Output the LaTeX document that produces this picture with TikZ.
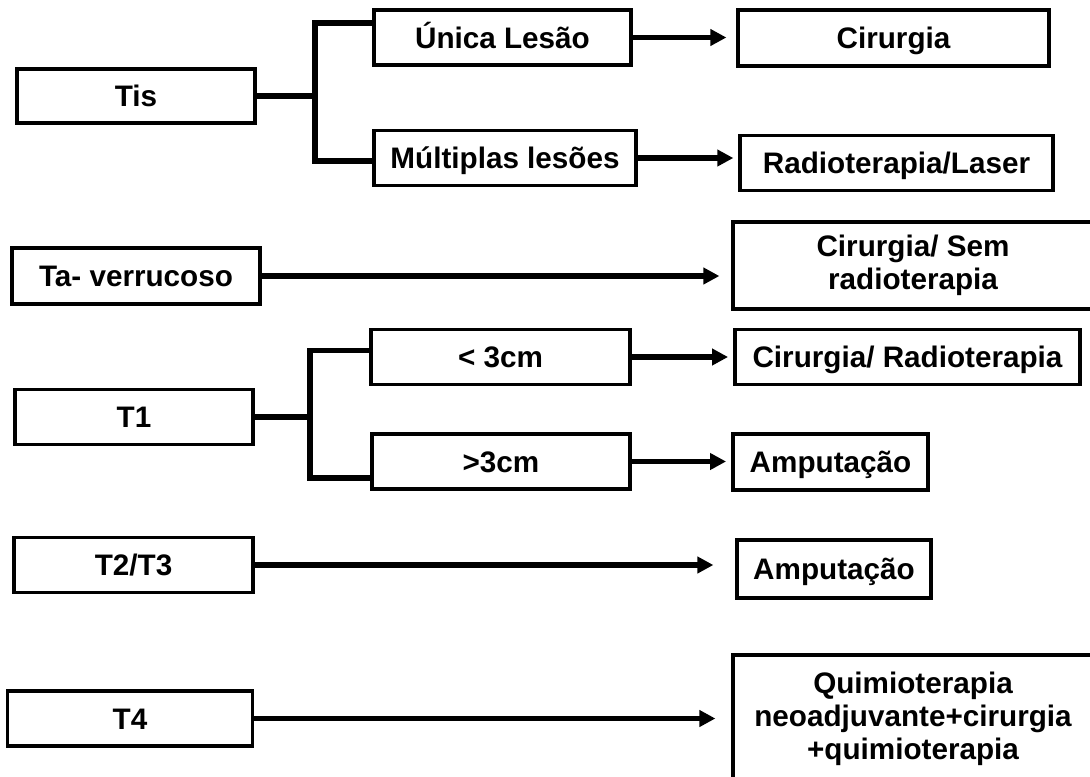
\documentclass[tikz,border=0pt]{standalone}
\usepackage{fontspec}
\setmainfont{Liberation Sans}
\usepackage{tikz}
\usetikzlibrary{arrows.meta,positioning}

\tikzset{
  box/.style={draw, line width=2.4pt, inner sep=0pt, minimum height=41.25pt,
    font=\fontsize{22.25}{24.75}\selectfont\bfseries},
  one/.style={box, text height=16pt, text depth=0pt},
  many/.style={box, align=center},
  branch/.style={line width=4pt},
  arrow/.style={line width=4pt, -{Triangle[length=12pt,width=12pt]}}
}

\begin{document}
\begin{tikzpicture}[x=0.75pt,y=-0.75pt]
    \clip (0,0) rectangle (1090,776);
    % estadios
    \node[one, minimum width=178.5pt, minimum height=40.5pt] (tis) at (136,96) {Tis};
    \node[one, minimum width=186pt, minimum height=42pt] (ta) at (136,276) {Ta- verrucoso};
    \node[one, minimum width=178.5pt] (t1) at (134,417) {T1};
    \node[one, minimum width=179.25pt] (t23) at (133.5,565) {T2/T3};
    \node[one, minimum width=183.75pt] (t4) at (130,718.5) {T4};
    % criterios
    \node[one, minimum width=192.75pt] (unica) at (502.5,37.5) {Única Lesão};
    \node[one, minimum width=196.5pt] (multi) at (505,158) {Múltiplas lesões};
    \node[one, minimum width=194.25pt] (menor) at (500.5,357) {< 3cm};
    \node[one, minimum width=193.5pt] (maior) at (501,461.5) {>3cm};
    % tratamentos
    \node[one, minimum width=233.25pt, minimum height=42pt] (cir) at (893.5,38) {Cirurgia};
    \node[one, minimum width=234.75pt] (rad) at (896.5,163) {Radioterapia/Laser};
    \node[many, minimum width=270pt, minimum height=65.25pt] (cirsem) at (913,265.5) {Cirurgia/ Sem\\radioterapia};
    \node[one, minimum width=258.75pt] (cirrad) at (907.5,357) {Cirurgia/ Radioterapia};
    \node[one, minimum width=146.25pt, minimum height=42pt] (amp1) at (830.5,462) {Amputação};
    \node[one, minimum width=145.5pt, minimum height=43.5pt] (amp2) at (834,569) {Amputação};
    \node[many, minimum width=270pt, minimum height=96pt] (quimio) at (913,719) {Quimioterapia\\neoadjuvante+cirurgia\\+quimioterapia};

    % chaves
    \coordinate (tisfork) at (315,96);
    \coordinate (t1fork) at (310,417);
    \draw[branch] (tis.east) -- (tis.east -| tisfork);
    \draw[branch] ([yshift=10.9pt]unica.west) -| (tisfork) |- ([yshift=-2.2pt]multi.west);
    \draw[branch] (t1.east) -- (t1.east -| t1fork);
    \draw[branch] ([yshift=4.9pt]menor.west) -| (t1fork) |- ([yshift=-12.4pt]maior.west);

    % setas
    \draw[arrow, shorten >=7.5pt] (unica.east) -- (unica.east -| cir.west);
    \draw[arrow, shorten >=3.8pt] (multi.east) -- (multi.east -| rad.west);
    \draw[arrow, shorten >=9pt] (ta.east) -- (ta.east -| cirsem.west);
    \draw[arrow, shorten >=4pt] (menor.east) -- (menor.east -| cirrad.west);
    \draw[arrow, shorten >=4pt] (maior.east) -- (maior.east -| amp1.west);
    \draw[arrow, shorten >=16.5pt] (t23.east) -- (t23.east -| amp2.west);
    \draw[arrow, shorten >=12pt] (t4.east) -- (t4.east -| quimio.west);
\end{tikzpicture}
\end{document}
